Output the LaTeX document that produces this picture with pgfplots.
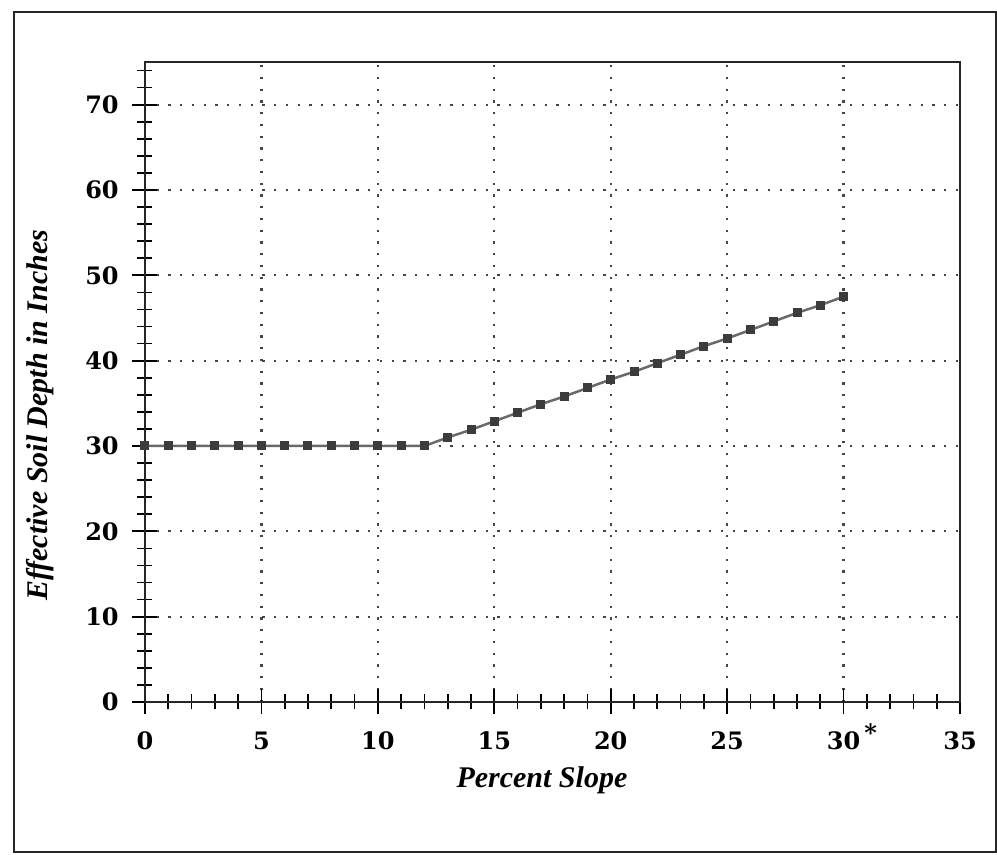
\documentclass[border=0pt]{standalone}
\usepackage{fontspec}
\setmainfont{DejaVu Serif}
\newfontfamily\labfont{Liberation Serif}
\usepackage{pgfplots}
\pgfplotsset{compat=1.18}
\definecolor{linegray}{RGB}{105,105,105}
\definecolor{markgray}{RGB}{60,60,60}
\definecolor{griddots}{RGB}{70,70,70}

\pgfplotstableread{
x y
0 30
1 30
2 30
3 30
4 30
5 30
6 30
7 30
8 30
9 30
10 30
11 30
12 30
13 31.0
14 31.9
15 32.9
16 33.9
17 34.9
18 35.8
19 36.8
20 37.8
21 38.7
22 39.7
23 40.7
24 41.7
25 42.6
26 43.6
27 44.6
28 45.6
29 46.5
30 47.5
}\depthdata

\begin{document}
\begin{tikzpicture}
\path[use as bounding box] (-58pt,-61.2pt) rectangle (340.8pt,280.8pt);
\draw[line width=0.9pt, black!85] (-52.4pt,-60pt) rectangle (340.4pt,276pt);
\begin{axis}[
  scale only axis,
  width=326pt, height=256pt,
  xmin=0, xmax=35, ymin=0, ymax=75,
  xtick={0,5,...,35},
  xticklabels={0,5,10,15,20,25,{30\rlap{\smash{\,\raisebox{0.7ex}{\textbf{*}}}}},35},
  minor xtick={0,1,...,35},
  ytick={0,10,...,70},
  minor ytick={0,2,...,74},
  tick pos=left,
  tick align=center,
  major tick length=10pt,
  minor tick length=6pt,
  every tick/.style={black, line width=0.7pt},
  axis line style={line width=0.9pt, black!85},
  grid=major,
  major grid style={griddots, line width=0.9pt, dash pattern=on 0.9pt off 3.8pt},
  /pgf/number format/assume math mode=true,
  ticklabel style={font=\fontsize{9.6}{11}\selectfont\bfseries},
  xticklabel style={yshift=-3.5pt},
  yticklabel style={xshift=-2pt},
  xlabel={\labfont\bfseries\itshape\fontsize{12}{14}\selectfont Percent Slope},
  ylabel={\labfont\bfseries\itshape\fontsize{12}{14}\selectfont Effective Soil Depth in Inches},
  xlabel style={at={(rel axis cs:0.487,0)}, anchor=center, yshift=-31.5pt},
  ylabel style={at={(rel axis cs:0,0.448)}, anchor=center, yshift=42pt},
]
\addplot[linegray, line width=1pt, mark=square*, mark size=1.3pt,
  mark options={markgray, fill=markgray}] table[x=x, y=y] {\depthdata};
\end{axis}
\end{tikzpicture}
\end{document}
